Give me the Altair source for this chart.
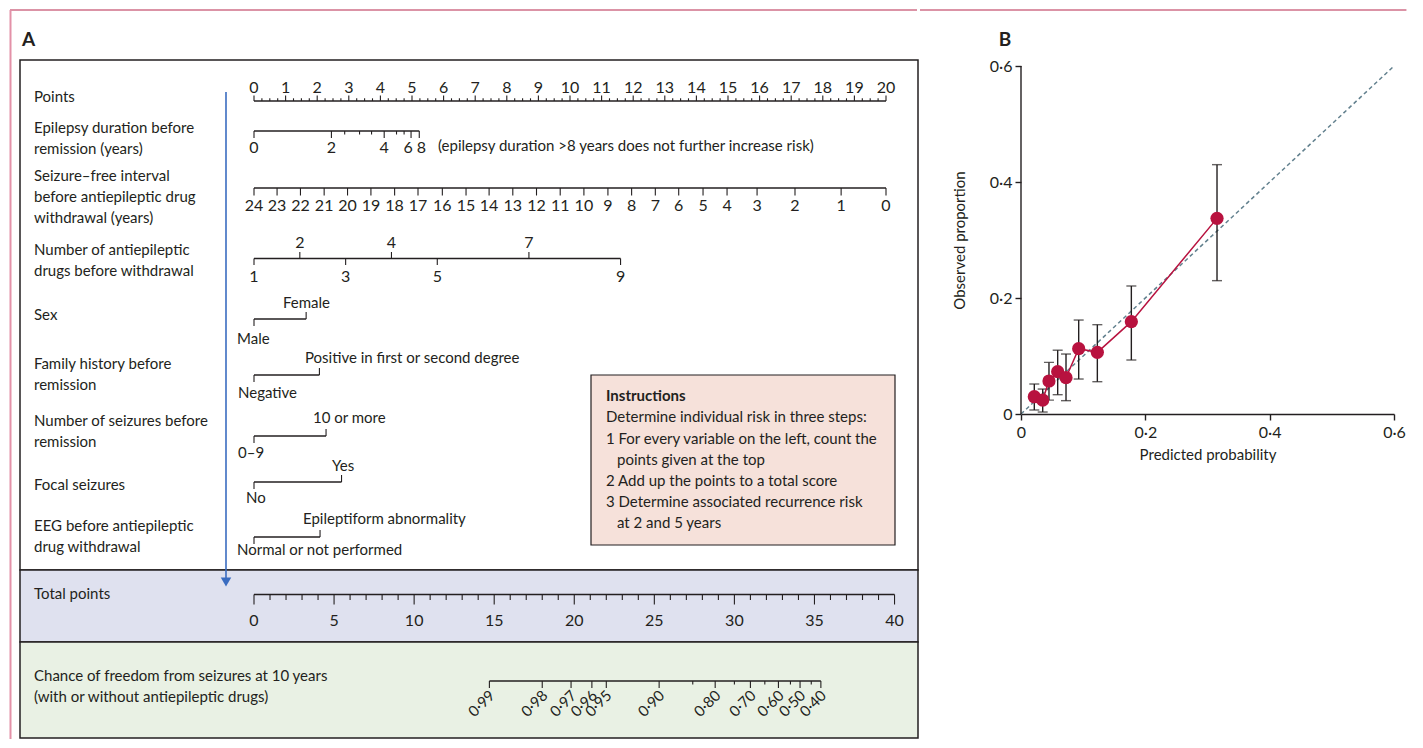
import altair as alt
import pandas as pd

# ---------------- values ----------------
# Panel A: nomogram scales (value -> position on the "Points" scale)
points_major = list(range(0, 21))
points_minor = [q / 4 for q in range(0, 81) if q % 4]

duration_years = [0, 2, 4, 6, 8]
duration_points = [0.0, 2.45, 4.12, 4.97, 5.23]
duration_minor_points = [2.87, 3.34, 3.72, 4.51, 4.75]

seizure_free_years = list(range(24, -1, -1))
seizure_free_points = [0.0, 0.73, 1.47, 2.22, 2.96, 3.70, 4.45, 5.19, 5.96, 6.71,
                       7.44, 8.19, 8.94, 9.69, 10.44, 11.20, 11.95, 12.70, 13.44,
                       14.21, 14.97, 15.92, 17.12, 18.58, 20.0]

aed_numbers = [1, 2, 3, 4, 5, 7, 9]
aed_points = [0.0, 1.45, 2.9, 4.35, 5.8, 8.7, 11.6]
aed_label_above = [False, True, False, True, False, True, False]

binary_reference = ["Male", "Negative", "0–9", "No", "Normal or not performed"]
binary_other = ["Female", "Positive in first or second degree", "10 or more", "Yes",
                "Epileptiform abnormality"]
binary_other_points = [1.65, 2.07, 2.28, 2.77, 2.09]

total_major = list(range(0, 41, 5))
total_minor = [t for t in range(0, 41) if t % 5]
total_to_points = 20.27 / 40  # total-points scale drawn under the points scale

chance_values = [0.99, 0.98, 0.97, 0.96, 0.95, 0.90, 0.85, 0.80, 0.75, 0.70,
                 0.65, 0.60, 0.55, 0.50, 0.45, 0.40]
chance_total = [14.7, 18.0, 19.8, 21.1, 22.0, 25.3, 27.4, 28.8, 30.0, 31.0,
                31.9, 32.75, 33.5, 34.1, 34.8, 35.4]
chance_labelled = [True, True, True, True, True, True, False, True, False, True,
                   False, True, False, True, False, True]

row_titles = ["Points", "Epilepsy duration before", "remission (years)",
              "Seizure–free interval", "before antiepileptic drug", "withdrawal (years)",
              "Number of antiepileptic", "drugs before withdrawal", "Sex",
              "Family history before", "remission", "Number of seizures before",
              "remission", "Focal seizures", "EEG before antiepileptic",
              "drug  withdrawal", "Total points",
              "Chance of freedom from seizures at 10 years",
              "(with or without antiepileptic drugs)"]

instructions = ["Instructions", "Determine individual risk in three steps:",
                "1 For every variable on the left, count the", "points given at the top",
                "2 Add up the points to a total score",
                "3 Determine associated recurrence risk", "at 2 and 5 years"]
duration_note = "(epilepsy duration >8 years does not further increase risk)"

# Panel B: calibration
calib_predicted = [0.0214, 0.0349, 0.045, 0.059, 0.0724, 0.0928, 0.1228, 0.1775, 0.3153]
calib_observed = [0.0298, 0.0241, 0.0569, 0.0730, 0.0626, 0.1126, 0.1063, 0.1592, 0.3373]
calib_low = [0.0069, 0.0034, 0.024, 0.0333, 0.023, 0.0603, 0.0557, 0.0931, 0.2299]
calib_high = [0.0517, 0.043, 0.089, 0.110, 0.1034, 0.162, 0.154, 0.2207, 0.4299]
calib_axis_ticks = [0, 0.2, 0.4, 0.6]

# ---------------- layout (page pixels of the reference) ----------------
FONT = "Lato"
INK = "#231f20"
FS = 15
FS_DIGITS = 16
PX0, PX_PER_POINT = 254, 31.6


def pt(px):
    return (px - PX0) / PX_PER_POINT


A_LEFT, A_RIGHT, A_TOP, A_BOTTOM = 8, 918, 8, 740
XS = alt.Scale(domain=[pt(A_LEFT), pt(A_RIGHT)], nice=False, zero=False)
YS = alt.Scale(domain=[A_TOP, A_BOTTOM], reverse=True, nice=False, zero=False)

row_title_y = [97, 128, 149, 176, 197, 218, 250, 271, 315, 364, 385, 421, 442, 485,
               526, 547, 594, 676, 697]
duration_label_shift_px = [0, 0, 0, -3, 2]
binary_line_y = [319, 375, 436, 482, 537]
binary_upper_y = [303, 358, 418, 466, 519]
binary_lower_y = [339, 393, 453, 498, 550]
binary_upper_x = [283, 305, 313, 332, 303]
binary_lower_x = [237, 238, 238, 246, 237]
instr_y = [396, 417, 439, 460, 481, 502, 523]
instr_x = [606, 606, 606, 617, 606, 606, 617]

# ---------------- build panel A tables ----------------
hl = []  # horizontal lines
vt = []  # vertical ticks
lab = []  # centred labels


def hline(x0, x1, y, w=1.4):
    hl.append({"x": x0, "x2": x1, "y": y, "w": w})


def tick(x, y0, y1):
    vt.append({"x": x, "y": y0, "y2": y1})


# Points
hline(0, 20, 101)
for p in points_major:
    tick(p, 101, 95.5)
    lab.append({"x": p, "y": 88, "text": str(p)})
for p in points_minor:
    tick(p, 101, 98.3)
# Epilepsy duration
hline(0, duration_points[-1], 131)
for v, p, s in zip(duration_years, duration_points, duration_label_shift_px):
    tick(p, 131, 138)
    lab.append({"x": p + s / PX_PER_POINT, "y": 148, "text": str(v)})
for p in duration_minor_points:
    tick(p, 131, 134.5)
# Seizure-free interval
hline(0, 20, 188)
for v, p in zip(seizure_free_years, seizure_free_points):
    tick(p, 188, 195.5)
    lab.append({"x": p, "y": 206, "text": str(v)})
# Number of AEDs
hline(0, aed_points[-1], 258.5)
for v, p, up in zip(aed_numbers, aed_points, aed_label_above):
    tick(p, 258.5, 252 if up else 265)
    lab.append({"x": p, "y": 243 if up else 277, "text": str(v)})
# Binary variables
blab = []
for i in range(5):
    y = binary_line_y[i]
    hline(0, binary_other_points[i], y)
    tick(0, y, y + 7)
    tick(binary_other_points[i], y, y - 7)
    blab.append({"x": pt(binary_upper_x[i]), "y": binary_upper_y[i], "text": binary_other[i]})
    blab.append({"x": pt(binary_lower_x[i]), "y": binary_lower_y[i], "text": binary_reference[i]})
# Total points
hline(0, 40 * total_to_points, 594.5)
for t in total_major:
    tick(t * total_to_points, 594.5, 604.5)
    lab.append({"x": t * total_to_points, "y": 620.5, "text": str(t)})
for t in total_minor:
    tick(t * total_to_points, 594.5, 600)
# Chance of freedom
hline(chance_total[0] * total_to_points, chance_total[-1] * total_to_points, 681)
clab = []
for v, t, show in zip(chance_values, chance_total, chance_labelled):
    x = t * total_to_points
    tick(x, 681, 688 if show else 684.5)
    if show:
        clab.append({"x": x + 0.09, "y": 693, "text": ("%.2f" % v).replace(".", "·")})

HL, VT, LAB, BLAB, CLAB = map(pd.DataFrame, (hl, vt, lab, blab, clab))
TITLES = pd.DataFrame({"x": pt(34), "y": row_title_y, "text": row_titles})
INSTR = pd.DataFrame({"x": [pt(v) for v in instr_x], "y": instr_y, "text": instructions})
SECTIONS = pd.DataFrame({
    "x": [pt(20)] * 3, "x2": [pt(918)] * 3,
    "y": [60, 570, 642], "y2": [570, 642, 738],
    "fill": ["#ffffff", "#dfe1ef", "#e9f1e4"]})
IBOX = pd.DataFrame({"x": [pt(591)], "x2": [pt(895)], "y": [375], "y2": [545]})
FRAME_TOP_A = pd.DataFrame({"x": [pt(10)], "x2": [pt(917)], "y": [10]})
FRAME_LEFT = pd.DataFrame({"x": [pt(10.5)], "y": [10], "y2": [739]})


def X(f="x"):
    return alt.X(f"{f}:Q", scale=XS, axis=None)


def Y(f="y"):
    return alt.Y(f"{f}:Q", scale=YS, axis=None)


def texts(df, **kw):
    return alt.Chart(df).mark_text(font=FONT, color=INK, baseline="middle", **kw).encode(
        x=X(), y=Y(), text="text:N")


frame_top = alt.Chart(FRAME_TOP_A).mark_rule(color="#b8284f", strokeWidth=1.2).encode(
    x=X(), x2="x2:Q", y=Y())
frame_left = alt.Chart(FRAME_LEFT).mark_rule(color="#e391a8", strokeWidth=2).encode(
    x=X(), y=Y(), y2="y2:Q")
sections = alt.Chart(SECTIONS).mark_rect(stroke=INK, strokeWidth=1.5).encode(
    x=X(), x2="x2:Q", y=Y(), y2="y2:Q", fill=alt.Fill("fill:N", scale=None))
ibox = alt.Chart(IBOX).mark_rect(fill="#f6e1da", stroke=INK, strokeWidth=1.2).encode(
    x=X(), x2="x2:Q", y=Y(), y2="y2:Q")
hlines = alt.Chart(HL).mark_rule(color=INK).encode(
    x=X(), x2="x2:Q", y=Y(), strokeWidth=alt.StrokeWidth("w:Q", scale=None))
vticks = alt.Chart(VT).mark_rule(color=INK, strokeWidth=1.1).encode(x=X(), y=Y(), y2="y2:Q")

ARROW = pd.DataFrame({"x": [pt(226)], "y": [92], "y2": [579], "yh": [582]})
arrow_line = alt.Chart(ARROW).mark_rule(color="#3a6cc0", strokeWidth=1.6).encode(
    x=X(), y=Y(), y2="y2:Q")
arrow_head = alt.Chart(ARROW).mark_point(shape="triangle-down", filled=True, size=110,
                                         color="#3a6cc0", opacity=1).encode(
    x=X(), y=alt.Y("yh:Q", scale=YS, axis=None))

PANEL_A_LABEL = pd.DataFrame({"x": [pt(22)], "y": [40], "text": ["A"]})
NOTE = pd.DataFrame({"x": [pt(438)], "y": [146], "text": [duration_note]})

panel_a = alt.layer(
    frame_top, frame_left, sections, ibox, hlines, vticks, arrow_line, arrow_head,
    texts(LAB, align="center", fontSize=FS_DIGITS),
    texts(BLAB, align="left", fontSize=FS),
    texts(CLAB, align="right", angle=315, fontSize=15),
    texts(TITLES, align="left", fontSize=FS),
    texts(INSTR.iloc[:1], align="left", fontSize=FS, fontWeight="bold"),
    texts(INSTR.iloc[1:], align="left", fontSize=FS),
    texts(NOTE, align="left", fontSize=FS),
    texts(PANEL_A_LABEL, align="left", fontSize=19, fontWeight="bold"),
).properties(width=A_RIGHT - A_LEFT, height=A_BOTTOM - A_TOP)

# ---------------- panel B ----------------
CAL = pd.DataFrame({"pred": calib_predicted, "obs": calib_observed,
                    "lo": calib_low, "hi": calib_high})
XB = alt.Scale(domain=[0, 0.6], nice=False)
YB = alt.Scale(domain=[0, 0.7], nice=False)
LBL = "datum.value == 0 ? '0' : replace(format(datum.value, '.1f'), '.', '·')"
common_axis = dict(values=calib_axis_ticks, labelExpr=LBL, grid=False, labelFont=FONT,
                   labelFontSize=16, labelColor=INK, tickColor=INK, tickSize=6,
                   tickWidth=1.4, titleFont=FONT, titleFontSize=15,
                   titleFontWeight="normal", titleColor=INK)
x_axis = alt.Axis(title="Predicted probability", domainColor=INK, domainWidth=1.4,
                  labelFlush=False, labelPadding=4, titlePadding=7, **common_axis)
y_axis = alt.Axis(title="Observed proportion", domain=False, labelPadding=3,
                  titleAngle=270, titleX=-62, titleY=232, titleAlign="center",
                  titleBaseline="middle", **common_axis)

DIAG = pd.DataFrame({"x": [0, 0.6], "y": [0, 0.6]})
diag = alt.Chart(DIAG).mark_line(color="#62808e", strokeDash=[4, 3], strokeWidth=1.5).encode(
    x=alt.X("x:Q", scale=XB, axis=x_axis), y=alt.Y("y:Q", scale=YB, axis=y_axis))
YLINE = pd.DataFrame({"x": [0], "y": [0], "y2": [0.6]})
yline = alt.Chart(YLINE).mark_rule(color=INK, strokeWidth=1.4).encode(
    x=alt.X("x:Q", scale=XB), y=alt.Y("y:Q", scale=YB), y2="y2:Q")
FRAME_TOP_B = pd.DataFrame({"x": [-0.1625], "x2": [0.62], "y": [0.7 - 2 * 0.7 / 406]})
frame_top_b = alt.Chart(FRAME_TOP_B).mark_rule(color="#b8284f", strokeWidth=1.2).encode(
    x=alt.X("x:Q", scale=XB), x2="x2:Q", y=alt.Y("y:Q", scale=YB))
ebar = alt.Chart(CAL).mark_rule(color=INK, strokeWidth=1.4).encode(
    x=alt.X("pred:Q", scale=XB), y=alt.Y("lo:Q", scale=YB), y2="hi:Q")
cap_lo = alt.Chart(CAL).mark_tick(orient="horizontal", color=INK, size=10, thickness=1.4).encode(
    x=alt.X("pred:Q", scale=XB), y=alt.Y("lo:Q", scale=YB))
cap_hi = alt.Chart(CAL).mark_tick(orient="horizontal", color=INK, size=10, thickness=1.4).encode(
    x=alt.X("pred:Q", scale=XB), y=alt.Y("hi:Q", scale=YB))
cline = alt.Chart(CAL).mark_line(color="#b8123f", strokeWidth=1.5).encode(
    x=alt.X("pred:Q", scale=XB), y=alt.Y("obs:Q", scale=YB), order="pred:Q")
cpts = alt.Chart(CAL).mark_circle(color="#b8123f", size=175, opacity=1).encode(
    x=alt.X("pred:Q", scale=XB), y=alt.Y("obs:Q", scale=YB))
BLABEL = pd.DataFrame({"x": [-0.0257], "y": [0.645], "text": ["B"]})
blabel = alt.Chart(BLABEL).mark_text(font=FONT, fontSize=19, fontWeight="bold", color=INK,
                                     align="center", baseline="middle").encode(
    x=alt.X("x:Q", scale=XB), y=alt.Y("y:Q", scale=YB), text="text:N")

panel_b = alt.layer(diag, yline, frame_top_b, ebar, cap_lo, cap_hi, cline, cpts,
                    blabel).properties(width=373, height=406)

chart = alt.hconcat(panel_a, panel_b, spacing=0).properties(
    padding=0, background="white").configure_view(stroke=None)

chart.save("out.html", embed_options={"renderer": "svg", "actions": False})
